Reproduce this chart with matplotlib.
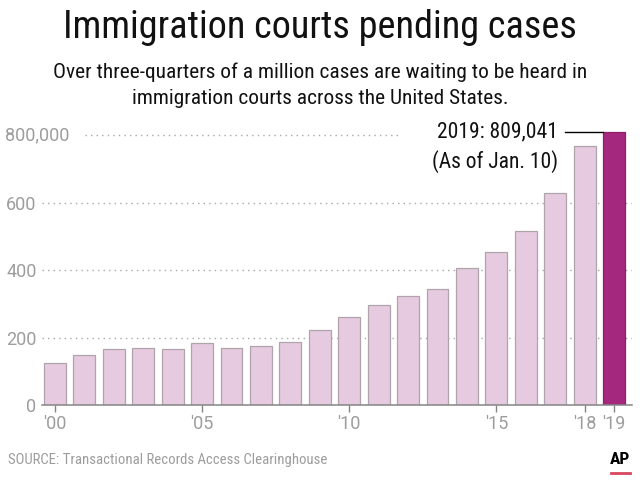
import numpy as np
import matplotlib
matplotlib.use("Agg")
import matplotlib.pyplot as plt

# pending cases by fiscal year (2019 = as of Jan. 10)
years = list(range(2000, 2020))
cases = [125000, 148000, 165000, 169000, 167000, 184000, 169000, 174000, 186000, 222000,
         262000, 296000, 324000, 343000, 407000, 454000, 515000, 628000, 766000, 809041]
tick_years = [2000, 2005, 2010, 2015, 2018, 2019]
tick_labels = ["'00", "'05", "'10", "'15", "'18", "'19"]
y_ticks = [0, 200000, 400000, 600000]
y_labels = ["0", "200", "400", "600"]

narrow = ["Roboto Condensed", "Liberation Sans", "DejaVu Sans"]
plain = ["Roboto", "Liberation Sans", "DejaVu Sans"]
grey = "#9d9d9d"

W, H = 640, 484
fig = plt.figure(figsize=(6.4, 4.84), dpi=100)

def fx(px):
    return px / W

def fy(py):
    return 1 - py / H

# axes: 0 at y=405px, 820k at y=128px
ax = fig.add_axes([fx(42), fy(405), fx(632) - fx(42), fy(128.25) - fy(405)])
ax.set_xlim(1999.56, 2019.61)
ax.set_ylim(0, 820000)

colors = ["#e6cadf"] * (len(years) - 1) + ["#a5287f"]
edges = ["#b0a4ac"] * (len(years) - 1) + ["#8c2069"]
ax.bar(years, cases, width=0.74, color=colors, edgecolor=edges, linewidth=0.9, zorder=3)

# dotted gridlines
for v in y_ticks[1:]:
    ax.hlines(v, 1999.56, 2019.61, colors="#a8a8a8", linestyles=(0, (1, 3)), linewidth=1, zorder=1)
ax.hlines(800000, 2000 + (85 - 55) / 29.42, 2000 + (398 - 55) / 29.42,
          colors="#a8a8a8", linestyles=(0, (1, 3)), linewidth=1, zorder=1)

for s in ["top", "right", "left"]:
    ax.spines[s].set_visible(False)
ax.spines["bottom"].set_color("#858585")
ax.spines["bottom"].set_linewidth(1.1)
ax.spines["bottom"].set_zorder(4)

ax.set_yticks(y_ticks)
ax.set_yticklabels(y_labels, family=plain, fontsize=13, color=grey)
ax.tick_params(axis="y", length=0, pad=4)
ax.set_xticks(tick_years)
ax.set_xticklabels(tick_labels, family=plain, fontsize=13, color=grey)
ax.tick_params(axis="x", length=5, color="#858585", width=1, pad=2)

ax.text(-37 / (632 - 42), 800000, "800,000", transform=ax.get_yaxis_transform(),
        ha="left", va="center", family=plain, fontsize=13, color=grey)

# annotation for 2019
ax.plot([2017.33, 2019 - 0.37], [809041, 809041], color="black", linewidth=1, zorder=4)
ax.text(2017.1, 809041, "2019: 809,041", ha="right", va="center",
        family=narrow, fontsize=15.5, color="#111111")
ax.text(2017.1, 722000, "(As of Jan. 10)", ha="right", va="center",
        family=narrow, fontsize=15.5, color="#111111")

fig.text(0.5, fy(28), "Immigration courts pending cases", ha="center", va="center",
         family=narrow, fontsize=27.5, color="#111111")
fig.text(0.5, fy(72), "Over three-quarters of a million cases are waiting to be heard in",
         ha="center", va="center", family=narrow, fontsize=15.4, color="#111111")
fig.text(0.5, fy(98), "immigration courts across the United States.",
         ha="center", va="center", family=narrow, fontsize=15.4, color="#111111")

fig.text(fx(8), fy(460), "SOURCE: Transactional Records Access Clearinghouse",
         ha="left", va="center", family=narrow, fontsize=10.6, color=grey)
fig.text(fx(620), fy(460), "AP", ha="center", va="center", family=narrow,
         fontsize=12.5, fontweight="bold", color="black")
fig.add_artist(plt.Line2D([fx(611), fx(630)], [fy(473), fy(473)], color="#d9475f", linewidth=2))

fig.savefig("out.png", dpi=100)
